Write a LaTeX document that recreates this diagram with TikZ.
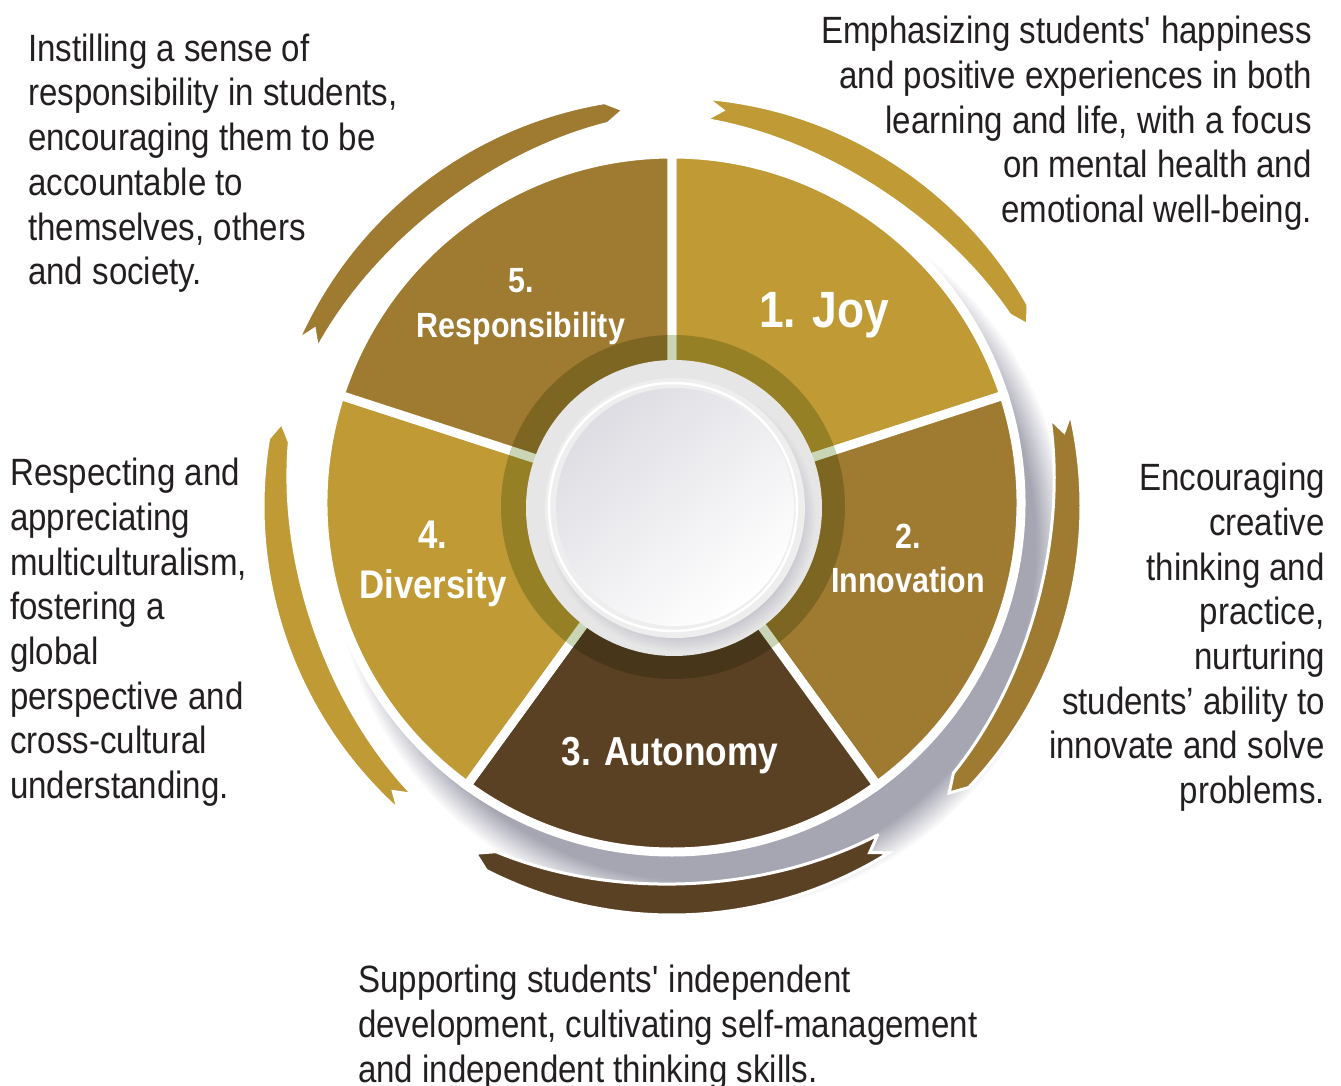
\documentclass[tikz,border=0pt]{standalone}
\usepackage{fontspec}
\setmainfont{Liberation Sans}[FakeStretch=0.87]
\definecolor{gold}{HTML}{BF9A35}
\definecolor{bronze}{HTML}{9F7A31}
\definecolor{umber}{HTML}{5B4124}
\definecolor{ringtint}{HTML}{C9D5B4}
\definecolor{shgray}{HTML}{A6A6B3}
\definecolor{diskgray}{HTML}{E6E6E6}
\definecolor{plategray}{HTML}{C6C6CF}
\definecolor{platecol}{HTML}{EEEEEF}
\definecolor{diskdim}{HTML}{DEDDE3}
\definecolor{ink}{HTML}{231F20}
\pgfdeclareradialshading{pieshadow}{\pgfpoint{0bp}{0bp}}{color(0bp)=(shgray); color(22.8bp)=(shgray); color(25bp)=(white); color(50bp)=(white)}
\pgfdeclareradialshading{plateshadow}{\pgfpoint{0bp}{0bp}}{color(0bp)=(plategray); color(22bp)=(plategray); color(25bp)=(diskgray); color(50bp)=(diskgray)}
\begin{document}
\begin{tikzpicture}[x=1pt,y=1pt,
  desc/.style={inner sep=0pt,text=ink,font=\fontsize{38}{44.7}\selectfont},
  seclabel/.style n args={2}{inner sep=0pt,text=white,align=center,font=\bfseries\fontsize{#1}{#2}\selectfont}]
\useasboundingbox (-672,-580) rectangle (669,505);
% shadow under the wheel
\shade[shading=pieshadow] (28,-40) circle (368);
% outer arrows
\foreach \crlr/\tl/\hd in {gold/85/27,bronze/13/-46,umber/-58/-119.5,gold/-132/-192,bronze/156/97}
  {\filldraw[\crlr,draw=white,line width=3pt,shift={(0,-1)}]
    (\tl:409) arc[start angle=\tl,end angle=\hd+2.5,radius=409]
    -- (\hd:399) -- ({\hd+2.5}:388)
    -- plot[domain=\hd+2.5:\tl,samples=40] (\x:{388-10*sin(180*(\x-(\hd)-2.5)/(\tl-(\hd)-2.5))})
    -- (\tl:388) -- ({\tl-2.3}:399) -- cycle;}
% sectors
\foreach \crlr/\st in {gold/90,bronze/18,umber/-54,gold/-126,bronze/162}
  {\filldraw[\crlr,draw=white,line width=9pt] (0,2) -- ++(\st:349) arc[start angle=\st,delta angle=-72,radius=349] -- cycle;}
\begin{scope}[blend mode=multiply]
\fill[ringtint] (1,-2) circle (172);
\end{scope}
% centre disk
\fill[diskgray] (2,-3) circle (148);
\shade[shading=plateshadow] (8,-11) circle (136);
\fill[platecol] (3,-3) circle (130);
\draw[white,line width=2.5pt] (1,-2) circle (124);
\shade[top color=diskdim,bottom color=white,shading angle=40] (3,-2) circle (119);
% labels
\node[seclabel={51}{60}] (joy) at (152,190) {1. Joy};
\node[seclabel={35}{44}] (innov) at (236,-53) {2.\\Innovation};
\node[seclabel={40.5}{48}] (auton) at (-2,-251) {3. Autonomy};
\node[seclabel={40}{50}] (divers) at (-239,-59) {4.\\Diversity};
\node[seclabel={35}{45}] (resp) at (-151,198) {5.\\Responsibility};
% texts
\node[desc,anchor=north west,align=left] (respText) at (-644,471.5)
  {Instilling a sense of\\responsibility in students,\\encouraging them to be\\accountable to\\themselves, others\\and society.};
\node[desc,anchor=north east,align=right] (joyText) at (640,489)
  {Emphasizing students\textquotesingle{} happiness\\and positive experiences in both\\learning and life, with a focus\\on mental health and\\emotional well-being.};
\node[desc,anchor=north east,align=right] (innovText) at (653,42)
  {Encouraging\\creative\\thinking and\\practice,\\nurturing\\students’ ability to\\innovate and solve\\problems.};
\node[desc,anchor=north west,align=left] (diversText) at (-662,47)
  {Respecting and\\appreciating\\multiculturalism,\\fostering a\\global\\perspective and\\cross-cultural\\understanding.};
\node[desc,anchor=north west,align=left] (autonText) at (-314,-460)
  {Supporting students\textquotesingle{} independent\\development, cultivating self-management\\and independent thinking skills.};
\end{tikzpicture}
\end{document}
